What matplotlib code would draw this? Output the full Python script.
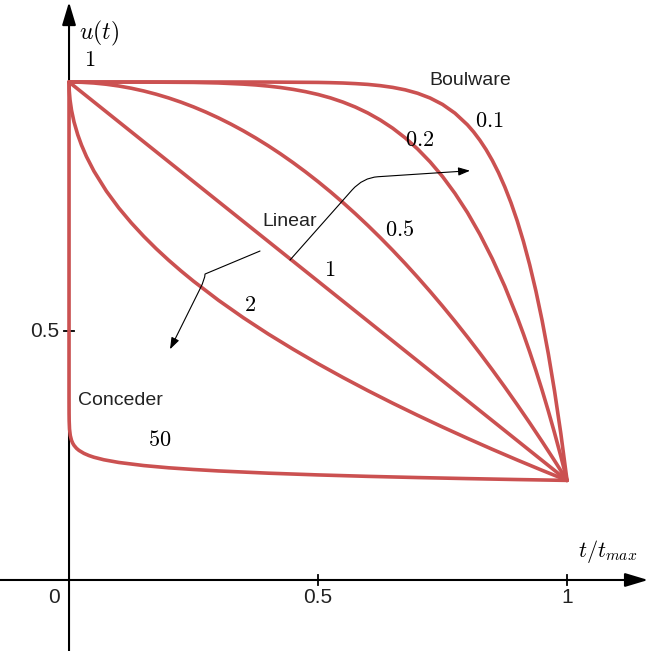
import matplotlib
matplotlib.use("Agg")
import matplotlib.pyplot as plt
from matplotlib.patches import FancyArrowPatch
from matplotlib.path import Path

plt.rcParams['mathtext.fontset'] = 'cm'
plt.rcParams['font.family'] = ['Liberation Sans', 'DejaVu Sans']

# curves: (t/t_max, u(t)) per beta
t_010 = [0, 0.1, 0.2, 0.3, 0.4, 0.5, 0.525, 0.55, 0.575, 0.6, 0.625, 0.65,
         0.675, 0.7, 0.725, 0.75, 0.775, 0.8, 0.8125, 0.825, 0.8375, 0.85,
         0.8625, 0.875, 0.8875, 0.9, 0.9125, 0.925, 0.9375, 0.95, 0.9625,
         0.975, 0.9875, 1.0]
u_010 = [1.0, 1.0, 1.0, 1.0, 0.9999, 0.9992, 0.9987, 0.998, 0.9968, 0.9952,
         0.9927, 0.9892, 0.9843, 0.9774, 0.9679, 0.955, 0.9374, 0.9141, 0.8997,
         0.8831, 0.8642, 0.8425, 0.8178, 0.7895, 0.7575, 0.7211, 0.6798,
         0.6331, 0.5804, 0.521, 0.4541, 0.379, 0.2946, 0.2]

t_020 = [0, 0.15, 0.25, 0.3, 0.35, 0.375, 0.4, 0.425, 0.45, 0.475, 0.5, 0.525,
         0.55, 0.575, 0.6, 0.625, 0.65, 0.675, 0.7, 0.725, 0.75, 0.775, 0.8,
         0.825, 0.85, 0.875, 0.9, 0.9125, 0.925, 0.9375, 0.95, 0.9625, 0.975,
         0.9875, 1.0]
u_020 = [1.0, 0.9999, 0.9992, 0.9981, 0.9958, 0.9941, 0.9918, 0.9889, 0.9852,
         0.9806, 0.975, 0.9681, 0.9597, 0.9497, 0.9378, 0.9237, 0.9072, 0.8879,
         0.8655, 0.8397, 0.8102, 0.7763, 0.7379, 0.6942, 0.645, 0.5897, 0.5276,
         0.4939, 0.4582, 0.4206, 0.381, 0.3392, 0.2951, 0.2488, 0.2]

t_050 = [0, 0.025, 0.05, 0.075, 0.1, 0.125, 0.15, 0.175, 0.2, 0.225, 0.25,
         0.275, 0.3, 0.325, 0.35, 0.375, 0.4, 0.425, 0.45, 0.475, 0.5, 0.525,
         0.55, 0.575, 0.6, 0.625, 0.65, 0.675, 0.7, 0.725, 0.75, 0.775, 0.8,
         0.825, 0.85, 0.875, 0.9, 0.925, 0.95, 0.975, 1.0]
u_050 = [1.0, 0.9995, 0.998, 0.9955, 0.992, 0.9875, 0.982, 0.9755, 0.968,
         0.9595, 0.95, 0.9395, 0.928, 0.9155, 0.902, 0.8875, 0.872, 0.8555,
         0.838, 0.8195, 0.8, 0.7795, 0.758, 0.7355, 0.712, 0.6875, 0.662,
         0.6355, 0.608, 0.5795, 0.55, 0.5195, 0.488, 0.4555, 0.422, 0.3875,
         0.352, 0.3155, 0.278, 0.2395, 0.2]

t_1 = [0, 1.0]
u_1 = [1.0, 0.2]

t_2 = [0, 0.0005, 0.002, 0.005, 0.01, 0.0175, 0.025, 0.035, 0.05, 0.075, 0.1,
       0.125, 0.15, 0.175, 0.2, 0.225, 0.25, 0.3, 0.35, 0.4, 0.45, 0.5, 0.55,
       0.6, 0.65, 0.7, 0.75, 0.8, 0.85, 0.9, 0.95, 1.0]
u_2 = [1.0, 0.9821, 0.9642, 0.9434, 0.92, 0.8942, 0.8735, 0.8503, 0.8211,
       0.7809, 0.747, 0.7172, 0.6902, 0.6653, 0.6422, 0.6205, 0.6, 0.5618,
       0.5267, 0.494, 0.4634, 0.4343, 0.4067, 0.3803, 0.355, 0.3307, 0.3072,
       0.2845, 0.2624, 0.241, 0.2202, 0.2]

t_50 = [0, 1e-6, 1e-5, 1e-4, 3e-4, 1e-3, 0.0025, 0.005, 0.0075, 0.01, 0.015,
        0.02, 0.03, 0.04, 0.05, 0.07, 0.1, 0.15, 0.2, 0.25, 0.3, 0.4, 0.5,
        0.6, 0.7, 0.8, 0.9, 1.0]
u_50 = [1.0, 0.3931, 0.3645, 0.3346, 0.3198, 0.3032, 0.2903, 0.2804, 0.2746,
        0.2704, 0.2644, 0.2602, 0.2542, 0.2499, 0.2465, 0.2414, 0.236, 0.2298,
        0.2253, 0.2219, 0.219, 0.2145, 0.211, 0.2081, 0.2057, 0.2036, 0.2017,
        0.2]

x_ticks = [0.5, 1.0]
x_tick_labels = ['0', '0.5', '1']
y_ticks = [0.5]
y_tick_labels = ['0.5']

RED = '#cb5151'

fig = plt.figure(figsize=(6.72, 6.51), dpi=100)
ax = fig.add_axes([0, 0, 1, 1])
ax.set_xlim(-0.1386, 1.2108)
ax.set_ylim(-0.1426, 1.1647)
ax.axis('off')

# axes with arrow heads
head = '-|>,head_length=1.0,head_width=0.3'
ax.annotate('', xy=(1.1627, 0), xytext=(-0.1386, 0),
            arrowprops=dict(arrowstyle=head, lw=1.5, color='black',
                            mutation_scale=14, shrinkA=0, shrinkB=0))
ax.annotate('', xy=(0, 1.1606), xytext=(0, -0.1426),
            arrowprops=dict(arrowstyle=head, lw=1.5, color='black',
                            mutation_scale=14, shrinkA=0, shrinkB=0))
for xt in x_ticks:
    ax.plot([xt, xt], [-0.01, 0.01], color='black', lw=1.3)
for yt in y_ticks:
    ax.plot([-0.011, 0.009], [yt, yt], color='black', lw=1.3)

tick_font = dict(fontsize=15, ha='center', va='center', color='#222222')
for xv, lab in zip([0.0] + x_ticks, x_tick_labels):
    ax.text(xv - (0.03 if xv == 0 else 0), -0.0361, lab, **tick_font)
for yv, lab in zip(y_ticks, y_tick_labels):
    ax.text(-0.0492, yv, lab, **tick_font)

# curves
for t, u in [(t_010, u_010), (t_020, u_020), (t_050, u_050),
             (t_1, u_1), (t_2, u_2), (t_50, u_50)]:
    ax.plot(t, u, color=RED, lw=2.6, solid_joinstyle='round',
            solid_capstyle='round', zorder=3)

# annotation arrows
def bent_arrow(p0, p1, c, p2, p3):
    path = Path([p0, p1, c, p2, p3],
                [Path.MOVETO, Path.LINETO, Path.CURVE3, Path.CURVE3, Path.LINETO])
    arr = FancyArrowPatch(path=path, arrowstyle='-|>,head_length=0.7,head_width=0.25',
                          mutation_scale=10, lw=0.8, color='black', zorder=4)
    ax.add_patch(arr)

bent_arrow((0.4438, 0.6426), (0.5683, 0.7831), (0.5904, 0.8080),
           (0.6205, 0.8098), (0.8052, 0.8219))
bent_arrow((0.3835, 0.6606), (0.2731, 0.6144), (0.2731, 0.6044),
           (0.2631, 0.5847), (0.2028, 0.4633))

# text labels
math_font = dict(fontsize=16, ha='center', va='center')
ax.text(0.0602, 1.0984, r'$u(t)$', fontsize=17, ha='center', va='center')
ax.text(0.0422, 1.0432, r'$1$', **math_font)
ax.text(1.0823, 0.0582, r'$t/t_{max}$', **math_font)
ax.text(0.8434, 0.9217, r'$0.1$', **math_font)
ax.text(0.7048, 0.8835, r'$0.2$', **math_font)
ax.text(0.6647, 0.7028, r'$0.5$', **math_font)
ax.text(0.5241, 0.6225, r'$1$', **math_font)
ax.text(0.3625, 0.5522, r'$2$', **math_font)
ax.text(0.1827, 0.2811, r'$50$', **math_font)

word_font = dict(fontsize=14, ha='center', va='center', color='#222222')
ax.text(0.8052, 1.004, 'Boulware', **word_font)
ax.text(0.4438, 0.7209, 'Linear', **word_font)
ax.text(0.1034, 0.3604, 'Conceder', **word_font)

fig.savefig('out.png', dpi=100)
